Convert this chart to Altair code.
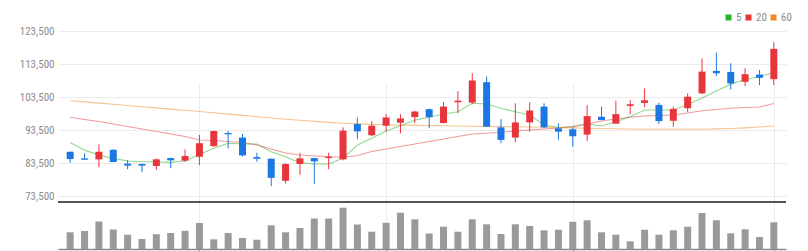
import altair as alt
import pandas as pd

# ---- data ----
opens = [86900, 84900, 84600, 87500, 83300, 83200, 82600, 85000, 84200, 85400,
         88600, 92600, 91200, 85300, 84800, 78100, 83200, 85000, 85000, 84600,
         95300, 91900, 94800, 95700, 97400, 99800, 95600, 101900, 101800, 108000,
         94300, 91200, 95800, 100600, 94000, 93700, 92100, 97500, 95400, 100800,
         101700, 101100, 96300, 100100, 104600, 111400, 111100, 108100, 110300, 108900]
closes = [84700, 84500, 86900, 83800, 82700, 82700, 84600, 84300, 85600, 89500,
          93200, 92200, 85800, 84800, 79000, 83200, 84900, 84000, 85400, 93300,
          93100, 94800, 97300, 97000, 99100, 97400, 100600, 102400, 108500, 94500,
          90500, 95800, 99400, 94300, 93000, 91600, 97700, 96500, 98300, 101300,
          102500, 96200, 99900, 103600, 111200, 110700, 107600, 110400, 109300, 118100]
highs = [87000, 86400, 89200, 87700, 84400, 83300, 84900, 85100, 87600, 92000,
         93300, 93200, 92300, 86600, 84900, 83400, 86600, 85000, 86600, 94300,
         97300, 96200, 98300, 98300, 99300, 100000, 102000, 105300, 110700, 109700,
         96800, 101600, 101900, 101600, 95500, 94300, 101000, 100600, 102400, 102600,
         106100, 101800, 100600, 104600, 115200, 117000, 113700, 112200, 111700, 120100]
lows = [83600, 84400, 82200, 83700, 81600, 80700, 81400, 81900, 83800, 82900,
        88400, 87900, 85500, 83900, 76500, 77300, 79900, 77100, 81600, 84300,
        90700, 91700, 93000, 92500, 95600, 94000, 95600, 98600, 101300, 94500,
        89500, 89800, 93000, 94000, 90500, 88400, 90200, 96500, 95600, 98300,
        100400, 95300, 94500, 98900, 104400, 109900, 105800, 106800, 107100, 107100]
volumes = [167000, 180000, 275000, 195000, 143000, 100000, 148000, 160000, 182000, 260000,
           97000, 160000, 110000, 93000, 237000, 167000, 210000, 305000, 305000, 413000,
           245000, 173000, 262000, 363000, 297000, 155000, 223000, 173000, 297000, 247000,
           150000, 247000, 230000, 187000, 193000, 273000, 287000, 167000, 143000, 77000,
           193000, 143000, 187000, 223000, 360000, 287000, 157000, 197000, 120000, 267000]
ma5 = [89700, 87400, 85900, 84900, 84100, 83900, 83900, 83700, 84200, 86100,
       87950, 89500, 89250, 89250, 86900, 85400, 83600, 83200, 83200, 84900,
       88950, 91000, 93200, 94800, 96500, 97350, 98350, 99050, 101600, 101400,
       100100, 99050, 98050, 95000, 94250, 94550, 95300, 94700, 96000, 97550,
       99550, 99550, 99550, 101200, 103200, 105300, 107400, 108800, 109650, 110900]
ma20 = [97350, 96680, 96080, 95320, 94560, 93800, 93050, 92290, 91530, 90470,
        90320, 90020, 89710, 88960, 87740, 86530, 85920, 85620, 85410, 85230,
        85770, 86990, 87740, 88500, 89260, 90020, 90770, 91530, 92290, 92500,
        92800, 93200, 93500, 93800, 94110, 94500, 95320, 96230, 96830, 97350,
        97740, 97890, 98050, 98650, 99350, 99710, 100080, 100320, 100470, 101530]
ma60 = [102380, 102020, 101650, 101290, 100920, 100560, 100200, 99830, 99470, 99110,
        98710, 98320, 97920, 97530, 97140, 96770, 96440, 96110, 95800, 95560,
        95350, 95200, 95080, 94990, 94890, 94830, 94770, 94710, 94650, 94590,
        94530, 94470, 94410, 94320, 94230, 94140, 94050, 93950, 93860, 93800,
        93740, 93710, 93710, 93710, 93740, 93830, 93950, 94140, 94410, 94710]
price_ticks = [73500, 83500, 93500, 103500, 113500, 123500]
grid_days = [9, 22, 35, 49]
ma_names = ["5", "20", "60"]

# ---- tables ----
n = len(opens)
df = pd.DataFrame({
    "i": list(range(n)), "open": opens, "close": closes,
    "high": highs, "low": lows, "vol": volumes,
})
df["dir"] = ["up" if c >= o else "down" for o, c in zip(opens, closes)]

ma_rows = []
for name, arr in zip(ma_names, [ma5, ma20, ma60]):
    for k, v in enumerate(arr):
        ma_rows.append({"i": k, "period": name, "value": v})
ma_df = pd.DataFrame(ma_rows)

FONT = "Liberation Sans Narrow, Roboto Condensed, Arial Narrow, Roboto, sans-serif"
RED, BLUE = "#e8353b", "#1b78e2"

xaxis = alt.Axis(values=grid_days, labels=False, title=None, grid=True,
                 gridColor="#ececec", domainColor="#8a8a8a", domainWidth=1.5,
                 tickColor="#8a8a8a", tickSize=3)
xenc = alt.X("i:Q", scale=alt.Scale(domain=[-0.5, n - 0.5], nice=False, zero=False),
             axis=xaxis)

pscale = alt.Scale(domain=[73500, 123500], range=[165, 0], nice=False, zero=False)
yaxis = alt.Axis(values=price_ticks, format=",.0f", title=None, grid=True,
                 gridColor="#ebebeb", domain=False, ticks=False, labelPadding=4,
                 labelFontSize=11, labelColor="#8c8c8c", labelFont=FONT)

dir_scale = alt.Scale(domain=["up", "down"], range=[RED, BLUE])

wicks = alt.Chart(df).mark_rule(strokeWidth=1).encode(
    x=xenc,
    y=alt.Y("low:Q", scale=pscale, axis=yaxis),
    y2="high:Q",
    stroke=alt.Stroke("dir:N", scale=dir_scale, legend=None),
)
bodies = alt.Chart(df).mark_bar(size=7).encode(
    x=xenc,
    y=alt.Y("open:Q", scale=pscale, axis=yaxis),
    y2="close:Q",
    fill=alt.Fill("dir:N", scale=dir_scale, legend=None),
)
lines = alt.Chart(ma_df).mark_line(strokeWidth=1.1, opacity=0.5).encode(
    x=xenc,
    y=alt.Y("value:Q", scale=pscale, axis=yaxis),
    color=alt.Color("period:N",
                    scale=alt.Scale(domain=ma_names, range=["#22b422", "#e83535", "#f08a24"]),
                    legend=alt.Legend(title=None, orient="none", direction="horizontal",
                                      legendX=665, legendY=-19, symbolType="square",
                                      symbolSize=9, symbolStrokeWidth=3, symbolOpacity=1,
                                      labelFontSize=11, labelColor="#8c8c8c", labelFont=FONT,
                                      labelOffset=2, columnPadding=-1, padding=0)),
    detail="period:N",
)
price = alt.layer(lines, wicks, bodies)

vscale = alt.Scale(domain=[0, 470000], range=[218, 171], nice=False, zero=True)
vbars = alt.Chart(df).mark_bar(size=7, color="#9a9a9a").encode(
    x=xenc,
    y=alt.Y("vol:Q", scale=vscale, axis=None),
)
sep = alt.Chart(df).mark_rule(color="#555555", strokeWidth=2).encode(
    y=alt.datum(470000, type="quantitative", scale=vscale, axis=None),
)
volume = alt.layer(vbars, sep)

chart = alt.layer(price, volume).resolve_scale(y="independent").properties(
    width=728, height=218,
    autosize=alt.AutoSizeParams(type="none"),
    padding={"left": 58, "top": 31, "right": 22, "bottom": 2},
    background="white",
).configure_view(stroke=None)

chart.save("out.html", embed_options={"renderer": "svg", "actions": False})
